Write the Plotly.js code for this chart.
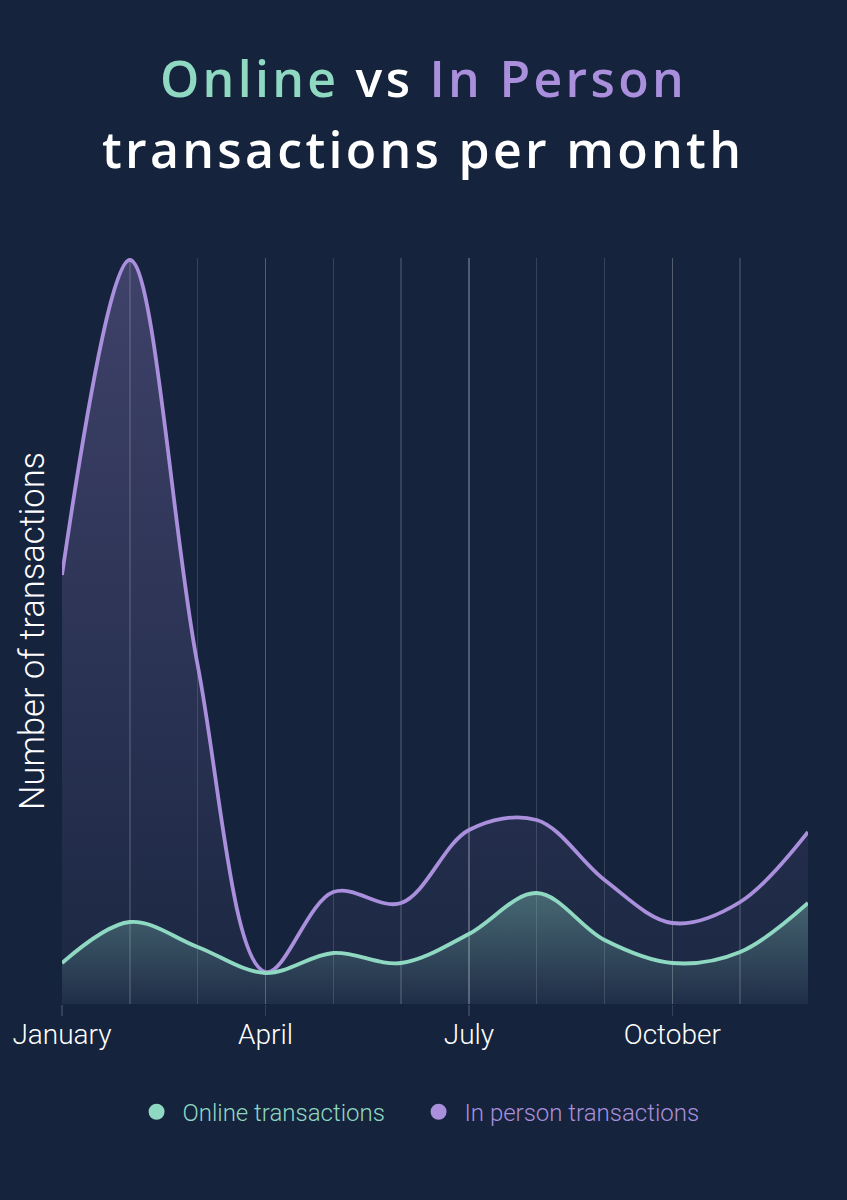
<!DOCTYPE html>
<html>
<head>
<meta charset="utf-8">
<script src="https://cdn.plot.ly/plotly-3.0.1.min.js"></script>
<style>
  html, body { margin: 0; padding: 0; background: #15233c; }
  #chart { width: 847px; height: 1200px; }
</style>
</head>
<body>
<div id="chart"></div>
<script>
  // months of the year, only every third one is labelled
  var months = ['January', 'February', 'March', 'April', 'May', 'June',
                'July', 'August', 'September', 'October', 'November', 'December'];
  var labelledMonths = ['January', 'April', 'July', 'October'];

  // values (no scale shown on the y axis)
  var inPerson = [429, 744, 339, 32, 112, 101, 174, 184, 124, 81, 102, 172];
  var online   = [41, 82, 57, 31, 51, 41, 70, 111, 64, 41, 52, 101];

  var mint = '#8fd8c2';
  var lilac = '#a98fdc';
  var bg = '#15233c';

  var xs = months.map(function (m, i) { return i; });

  var traces = [
    {
      x: xs, y: inPerson, type: 'scatter', mode: 'lines',
      line: { color: lilac, width: 3.8, shape: 'spline', smoothing: 1 },
      fill: 'tozeroy',
      fillgradient: {
        type: 'vertical',
        colorscale: [[0, 'rgba(169,143,220,0.04)'], [1, 'rgba(169,143,220,0.28)']]
      },
      showlegend: false, hoverinfo: 'skip'
    },
    {
      x: xs, y: online, type: 'scatter', mode: 'lines',
      line: { color: mint, width: 3.8, shape: 'spline', smoothing: 1 },
      fill: 'tozeroy',
      fillgradient: {
        type: 'vertical',
        colorscale: [[0, 'rgba(143,216,194,0.04)'], [1, 'rgba(143,216,194,0.35)']]
      },
      showlegend: false, hoverinfo: 'skip'
    },
    // legend entries only
    {
      x: [null], y: [null], type: 'scatter', mode: 'markers',
      marker: { color: mint, size: 18 },
      name: '<span style="color:' + mint + '">\u00a0Online transactions</span>'
    },
    {
      x: [null], y: [null], type: 'scatter', mode: 'markers',
      marker: { color: lilac, size: 18 },
      name: '<span style="color:' + lilac + '">\u00a0In person transactions</span>'
    }
  ];

  var sp = 'letter-spacing:3.3px;';
  var layout = {
    width: 847, height: 1200,
    paper_bgcolor: bg, plot_bgcolor: bg,
    margin: { l: 62, r: 39, t: 258, b: 196 },
    title: {
      text: '<span style="' + sp + 'color:' + mint + '">Online</span>' +
            '<span style="' + sp + '"> vs </span>' +
            '<span style="' + sp + 'color:' + lilac + '">In Person</span>',
      font: { family: 'Open Sans', size: 50, color: '#ffffff', weight: 600 },
      x: 0.5, xanchor: 'center',
      yref: 'container', y: 0.948, yanchor: 'top'
    },
    annotations: [{
      text: '<span style="' + sp + '">transactions per month</span>',
      font: { family: 'Open Sans', size: 50, color: '#ffffff', weight: 600 },
      xref: 'paper', yref: 'paper', x: (423 - 62) / 746, xanchor: 'center',
      y: (1004 - 149) / 746, yanchor: 'middle', showarrow: false
    }],
    xaxis: {
      range: [0, 11],
      tickmode: 'array',
      tickvals: labelledMonths.map(function (m) { return months.indexOf(m); }),
      ticktext: labelledMonths,
      ticks: 'outside', ticklen: 11, tickwidth: 1.5,
      tickcolor: 'rgba(255,255,255,0.14)',
      ticklabelstandoff: -6,
      showgrid: true, gridcolor: 'rgba(255,255,255,0.14)', gridwidth: 1.5,
      minor: { dtick: 1, showgrid: true, gridcolor: 'rgba(255,255,255,0.14)', gridwidth: 1.5 },
      zeroline: false, showline: false,
      tickfont: { family: 'Roboto', size: 28, color: '#ffffff', weight: 300 }
    },
    yaxis: {
      range: [0, 746],
      showgrid: false, zeroline: false, showline: false,
      showticklabels: false, ticks: '',
      title: {
        text: 'Number of transactions', standoff: 5,
        font: { family: 'Roboto', size: 34.5, color: '#ffffff', weight: 300 }
      }
    },
    legend: {
      orientation: 'h',
      x: 0.478, xanchor: 'center',
      y: -0.145, yanchor: 'middle',
      font: { family: 'Roboto', size: 24, weight: 300 },
      entrywidth: 237,
      bgcolor: 'rgba(0,0,0,0)'
    },
    hovermode: false
  };

  Plotly.newPlot('chart', traces, layout, { displayModeBar: false, staticPlot: true });
</script>
</body>
</html>
